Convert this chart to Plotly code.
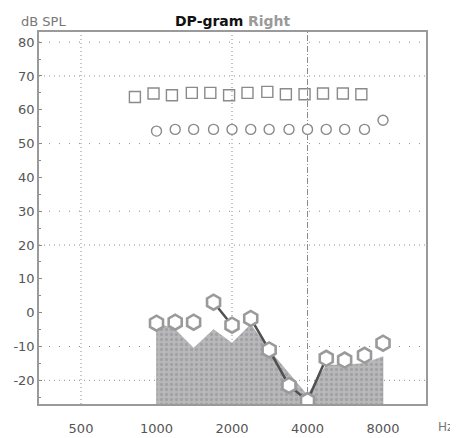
import math
import plotly.graph_objects as go

# ---- data ----
f2 = [1000, 1187, 1406, 1688, 2000, 2375, 2812, 3375, 4000, 4750, 5625, 6750, 8000]
f1 = [820, 973, 1152, 1383, 1639, 1947, 2305, 2766, 3279, 3893, 4611, 5533, 6557]
L1 = [63.8, 64.8, 64.3, 65.0, 65.0, 64.3, 65.0, 65.3, 64.6, 64.6, 64.8, 64.8, 64.6]
L2 = [53.7, 54.2, 54.2, 54.2, 54.2, 54.2, 54.2, 54.2, 54.2, 54.2, 54.2, 54.2, 56.9]
DP = [-3.1, -2.8, -2.8, 3.1, -3.7, -1.7, -11.0, -21.5, -26.0, -13.5, -14.0, -12.6, -9.0]
NOISE = [-3.0, -5.0, -10.5, -5.0, -9.0, -3.5, -11.0, -18.0, -24.5, -15.5, -15.5, -15.0, -13.0]
DP_LINE_IDX = [[3, 4], [5, 6, 7, 8, 9]]

x_ticks = [500, 1000, 2000, 4000, 8000]
x_ticklabels = ["500", "1000", "2000", "4000", "8000"]
y_ticks = [80, 70, 60, 50, 40, 30, 20, 10, 0, -10, -20]
y_ticklabels = ["80", "70", "60", "50", "40", "30", "20", "10", "0", "-10", "-20"]
Y_RANGE = [-27, 83]
X_RANGE_HZ = [340, 11870]
GRID_X = [(500, "1px,3px"), (2000, "1px,3px"), (4000, "6px,2px,1px,2px")]
GRID_Y = [(80, "1px,9px"), (70, "1px,4px"), (50, "1px,9px"), (30, "1px,9px"),
          (20, "1px,4px"), (-10, "1px,9px"), (-20, "1px,4px")]

fig = go.Figure()

# noise floor area
fig.add_trace(go.Scatter(x=[f2[0]] + f2 + [f2[-1]], y=[Y_RANGE[0]] + NOISE + [Y_RANGE[0]],
                         mode="lines", line=dict(width=0.5, color="#9a9a9a"),
                         fill="toself",
                         fillcolor="#b4b4b4",
                         fillpattern=dict(shape=".", bgcolor="#b8b8b8", fgcolor="#8a8a96",
                                          size=5, solidity=0.35),
                         showlegend=False, hoverinfo="skip"))

# DP connecting line segments
lx, ly = [], []
for seg in DP_LINE_IDX:
    for i in seg:
        lx.append(f2[i]); ly.append(DP[i])
    lx.append(None); ly.append(None)
fig.add_trace(go.Scatter(x=lx, y=ly, mode="lines", line=dict(color="#505050", width=2.5),
                         showlegend=False))

# L1 squares
fig.add_trace(go.Scatter(x=f1, y=L1, mode="markers",
                         marker=dict(symbol="square-open", size=11, color="#8a8a8a",
                                     line=dict(width=1.4)), showlegend=False))
# L2 circles
fig.add_trace(go.Scatter(x=f2, y=L2, mode="markers",
                         marker=dict(symbol="circle", size=10, color="white",
                                     line=dict(width=1.4, color="#8a8a8a")), showlegend=False))
# DP circles
fig.add_trace(go.Scatter(x=f2, y=DP, mode="markers",
                         marker=dict(symbol="hexagon", size=15, color="white",
                                     line=dict(width=2.6, color="#9a9a9a")), showlegend=False))

shapes = []
for xv, dash in GRID_X:
    shapes.append(dict(type="line", xref="x", yref="paper", x0=xv, x1=xv, y0=0, y1=1,
                       line=dict(color="#8a8a8a", width=1, dash=dash), layer="below"))
for yv, dash in GRID_Y:
    shapes.append(dict(type="line", xref="paper", yref="y", x0=0, x1=1, y0=yv, y1=yv,
                       line=dict(color="#8a8a9a", width=1, dash=dash), layer="below"))

fig.update_layout(
    width=450, height=430,
    margin=dict(l=31, r=32, t=24, b=34),
    paper_bgcolor="white", plot_bgcolor="white",
    font=dict(family="DejaVu Sans", size=13, color="#444444"),
    shapes=shapes,
    xaxis=dict(type="log", range=[math.log10(X_RANGE_HZ[0]), math.log10(X_RANGE_HZ[1])],
               tickvals=x_ticks, ticktext=x_ticklabels, showgrid=False, zeroline=False,
               showline=True, mirror=True, linecolor="#9a9a9a", linewidth=1.5,
               automargin=False,
               ticks="", ticklabelstandoff=12, tickfont=dict(size=13, color="#555555")),
    yaxis=dict(range=Y_RANGE, tickvals=y_ticks, ticktext=y_ticklabels, showgrid=False,
               zeroline=False, showline=True, mirror=True, linecolor="#9a9a9a", linewidth=1.5,
               automargin=False,
               ticks="inside", ticklen=3, tickcolor="#888888",
               minor=dict(dtick=5, ticks="inside", ticklen=2, tickcolor="#888888"),
               tickfont=dict(size=13, color="#555555")),
    annotations=[
        dict(text="<b>DP-gram</b> <b><span style='color:#9a9a9a'>Right</span></b>",
             xref="paper", yref="paper", x=0.5, y=1, yshift=11, yanchor="middle",
             showarrow=False, font=dict(size=14, color="#111111"), xanchor="center"),
        dict(text="dB SPL", xref="paper", yref="paper", x=0, xshift=-20, y=1, yshift=11,
             yanchor="middle", showarrow=False, font=dict(size=13, color="#777777"),
             xanchor="left"),
        dict(text="Hz", xref="paper", yref="paper", x=1, xshift=10, y=0, yshift=-23,
             yanchor="middle", showarrow=False, font=dict(size=12, color="#777777"),
             xanchor="left"),
    ],
)

fig.write_html("out.html")
